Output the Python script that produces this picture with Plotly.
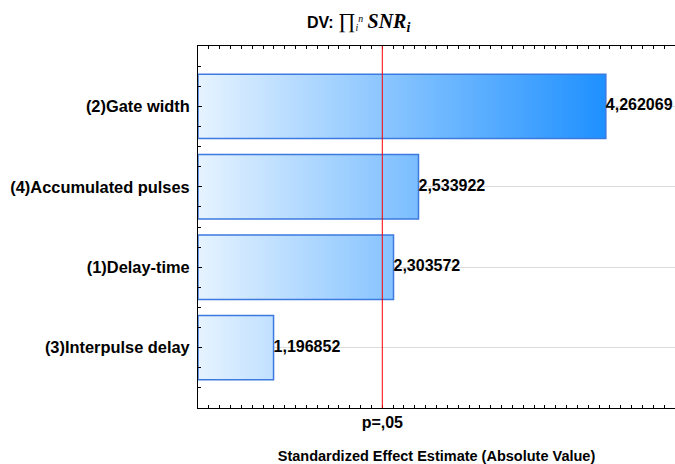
import plotly.graph_objects as go

# ---- data ----
factors = ["(3)Interpulse delay", "(1)Delay-time", "(4)Accumulated pulses", "(2)Gate width"]
effects = [1.196852, 2.303572, 2.533922, 4.262069]
p_crit = 2.2          # critical |t| for p = .05
p_label = "p=,05"
x_title = "Standardized Effect Estimate (Absolute Value)"
value_labels = [f"{v:.6f}".replace(".", ",") for v in effects]

x_min, x_max = 0.5, 4.9
positions = list(range(1, len(factors) + 1))
half = 0.4
FONT = "Liberation Sans, Arial, sans-serif"
W, H = 675, 464

fig = go.Figure()
for pos, v in zip(positions, effects):
    fig.add_trace(go.Scatter(
        x=[x_min, v, v, x_min, x_min],
        y=[pos - half, pos - half, pos + half, pos + half, pos - half],
        mode="lines", fill="toself",
        fillgradient=dict(type="horizontal",
                          colorscale=[[0, "#e6f3ff"], [1, "#1e90ff"]],
                          start=x_min, stop=max(effects)),
        line=dict(color="#3d7ae0", width=1.5),
        showlegend=False, hoverinfo="skip"))

fig.add_trace(go.Scatter(
    x=effects, y=positions, mode="text", text=value_labels,
    textposition="middle right", cliponaxis=False,
    textfont=dict(size=16, color="black", family=FONT, weight="bold"),
    showlegend=False, hoverinfo="skip"))

fig.add_shape(type="line", xref="x", yref="paper", x0=p_crit, x1=p_crit,
              y0=0, y1=1, line=dict(color="red", width=1), layer="above")

title_text = ("<b>DV:</b> <span style='font-family:Liberation Serif;font-size:21px'>∏</span>"
              "<span style='font-family:Liberation Serif;font-size:14px'><sub><i>i</i></sub><sup><i>n</i></sup></span>"
              " <span style='font-family:Liberation Serif;font-size:20px'><b><i>SNR<sub>i</sub></i></b></span>")

fig.update_layout(
    width=W, height=H,
    margin=dict(l=198, r=0, t=46, b=56, autoexpand=False),
    paper_bgcolor="white", plot_bgcolor="white",
    title=dict(
        text=title_text,
        x=307 / W, xanchor="left", xref="container",
        y=1 - 22 / H, yanchor="middle", yref="container",
        font=dict(size=16, color="black", family=FONT)),
    xaxis=dict(
        range=[x_min, x_max], tickvals=[p_crit], ticktext=[p_label],
        ticks="inside", ticklen=3, tickcolor="black",
        showline=True, linecolor="black", linewidth=1, mirror="ticks",
        showgrid=False, zeroline=False,
        minor=dict(dtick=0.1, tick0=x_min, ticks="inside", ticklen=3,
                   tickcolor="black", showgrid=False),
        tickfont=dict(size=16, color="black", family=FONT, weight="bold"),
        title=dict(text=x_title, standoff=20,
                   font=dict(size=14.5, color="black", family=FONT, weight="bold")),
        automargin=False),
    yaxis=dict(
        range=[0.25, 4.75], tickvals=positions, ticktext=factors,
        ticks="inside", ticklen=4, tickcolor="black", ticklabelstandoff=4,
        showline=True, linecolor="black", linewidth=1, mirror=False,
        showgrid=True, gridcolor="#dcdcdc", gridwidth=1, zeroline=False,
        minor=dict(dtick=0.25, tick0=0.25, ticks="inside", ticklen=3,
                   tickcolor="black", showgrid=False),
        tickfont=dict(size=16.4, color="black", family=FONT, weight="bold"),
        automargin=False),
)

fig.write_html("out.html", config={"displayModeBar": False},
               post_script="document.body.style.margin='0';document.body.style.overflow='hidden';")
